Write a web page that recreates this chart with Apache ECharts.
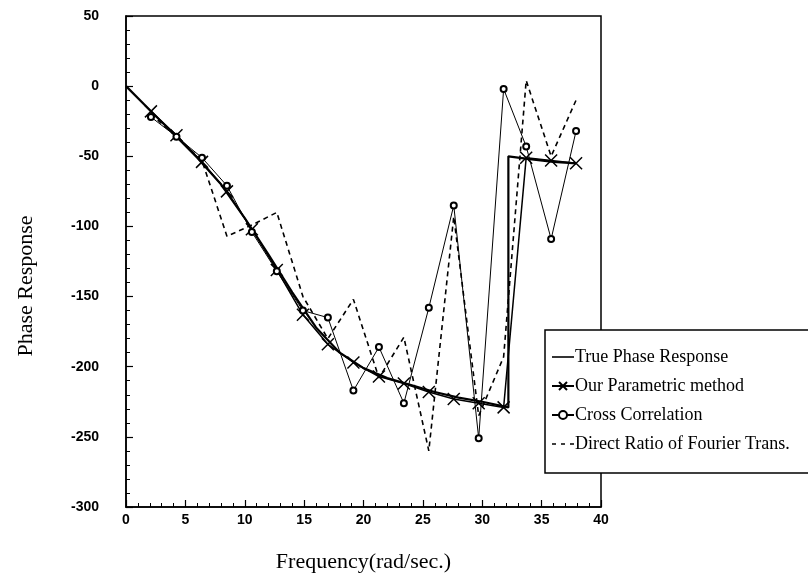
<!DOCTYPE html>
<html>
<head>
<meta charset="utf-8">
<script src="https://cdn.jsdelivr.net/npm/echarts@6/dist/echarts.min.js"></script>
<style>
  html, body { margin: 0; padding: 0; background: #fff; }
  #chart { width: 808px; height: 586px; }
</style>
</head>
<body>
<div id="chart"></div>
<script>
  // frequencies (rad/sec) where the estimates are computed
  var freqs = [2.1, 4.25, 6.4, 8.5, 10.6, 12.7, 14.9, 17.0, 19.15, 21.3, 23.4, 25.5, 27.6, 29.7, 31.8, 33.7, 35.8, 37.9]
  // true phase curve
  var trueFreq  = [0, 2, 4, 6, 8, 10, 12, 14, 16, 18, 20, 22, 24, 26, 28, 30, 32.2, 32.2, 34, 36, 37.9]
  var truePhase = [0, -17, -34, -51, -70, -94, -120, -147, -172, -190, -201, -208, -213, -218, -222, -225, -229, -50, -52, -54, -55]
  // estimates
  var parametric  = [-18, -35, -54, -75, -102, -131, -163, -184, -197, -207, -212, -218, -223, -226, -229, -51, -53, -55]
  var crossCorr   = [-22, -36, -51, -71, -104, -132, -160, -165, -217, -186, -226, -158, -85, -251, -2, -43, -109, -32]
  var directRatio = [-20, -36, -53, -107, -99, -90, -150, -180, -152, -208, -179, -260, -93, -235, -193, 4, -50, -10]

  var yTicks = [50, 0, -50, -100, -150, -200, -250, -300]

  function pairs(xs, ys) {
    return ys.map(function (v, i) { return [xs[i], v] })
  }

  var serif = 'Liberation Serif'
  var crossPath = 'path://M0,0L10,10M10,0L0,10'

  var chart = echarts.init(document.getElementById('chart'))
  var option = {
    backgroundColor: '#fff',
    animation: false,
    grid: {
      left: 126, right: 207, top: 16, bottom: 79,
      show: true, borderColor: '#000', borderWidth: 1.5, backgroundColor: 'transparent'
    },
    legend: {
      orient: 'vertical',
      left: 545, top: 330,
      backgroundColor: '#fff',
      borderColor: '#000', borderWidth: 1.5, borderRadius: 0,
      padding: [18, 40, 20, 6],
      itemWidth: 22, itemHeight: 10, itemGap: 11,
      textStyle: { fontFamily: serif, fontSize: 18, color: '#000', padding: [0, 0, 0, -4] },
      data: [
        { name: 'True Phase Response', icon: 'path://M0,0L22,0L22,1.6L0,1.6Z' },
        'Our Parametric method',
        'Cross Correlation',
        { name: 'Direct Ratio of Fourier Trans.', icon: 'path://M0,0L4,0L4,1.4L0,1.4ZM9,0L13,0L13,1.4L9,1.4ZM18,0L22,0L22,1.4L18,1.4Z' }
      ]
    },
    xAxis: {
      type: 'value', min: 0, max: 40, interval: 5,
      name: 'Frequency(rad/sec.)', nameLocation: 'middle', nameGap: 44,
      nameTextStyle: { fontFamily: serif, fontSize: 22, color: '#000' },
      axisLine: { onZero: false, lineStyle: { color: '#000', width: 1.5 } },
      axisTick: { inside: true, length: 7, lineStyle: { color: '#000', width: 1.2 } },
      minorTick: { show: true, splitNumber: 5, length: 4, lineStyle: { color: '#000' } },
      axisLabel: { fontFamily: 'Liberation Sans', fontWeight: 'bold', fontSize: 14, color: '#000', margin: 6 },
      splitLine: { show: false }
    },
    yAxis: {
      type: 'value', min: -300, max: 50, interval: 50,
      axisLine: { show: true, onZero: false, lineStyle: { color: '#000', width: 1.5 } },
      axisTick: { show: true, inside: true, length: 7, lineStyle: { color: '#000', width: 1.2 } },
      minorTick: { show: true, splitNumber: 5, length: 4, lineStyle: { color: '#000' } },
      axisLabel: {
        fontFamily: 'Liberation Sans', fontWeight: 'bold', fontSize: 14, color: '#000', margin: 27,
        formatter: function (v) { return yTicks.indexOf(v) >= 0 ? String(v) : '' }
      },
      splitLine: { show: false }
    },
    graphic: [{
      type: 'text', rotation: Math.PI / 2, x: 26, y: 286,
      style: { text: 'Phase Response', font: '22px ' + serif, fill: '#000', textAlign: 'center', textVerticalAlign: 'middle' }
    }],
    series: [
      {
        name: 'True Phase Response', type: 'line', symbol: 'none',
        lineStyle: { color: '#000', width: 2.2 }, itemStyle: { color: '#000' },
        data: pairs(trueFreq, truePhase), z: 3
      },
      {
        name: 'Our Parametric method', type: 'line', symbol: crossPath, symbolSize: 12,
        lineStyle: { color: '#000', width: 1.5 },
        itemStyle: { color: '#000', borderColor: '#000', borderWidth: 1.5 },
        data: pairs(freqs, parametric), z: 4
      },
      {
        name: 'Cross Correlation', type: 'line', symbol: 'emptyCircle', symbolSize: 6,
        showAllSymbol: true,
        lineStyle: { color: '#000', width: 1 },
        itemStyle: { color: '#000', borderColor: '#000', borderWidth: 1.5 },
        data: pairs(freqs, crossCorr), z: 5
      },
      {
        name: 'Direct Ratio of Fourier Trans.', type: 'line', symbol: 'none',
        lineStyle: { color: '#000', width: 1.6, type: [5, 4] }, itemStyle: { color: '#000' },
        data: pairs(freqs, directRatio), z: 2
      }
    ]
  }
  chart.setOption(option)
</script>
</body>
</html>
